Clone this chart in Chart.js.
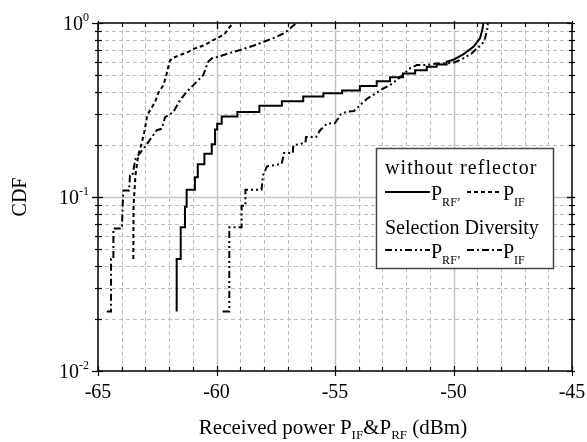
<!DOCTYPE html>
<html>
<head>
<meta charset="utf-8">
<script src="https://cdn.jsdelivr.net/npm/chart.js@4.4.0/dist/chart.umd.min.js"></script>
<style>
  html, body { margin: 0; padding: 0; background: #fff; }
</style>
</head>
<body>
<canvas id="grafico" width="587" height="442"></canvas>
<script>
// values (received power in dBm, CDF)
const rfSinX = [-61.68, -61.68, -61.51, -61.51, -61.33, -61.33, -61.26, -61.26, -60.91, -60.91,
  -60.79, -60.79, -60.51, -60.51, -60.20, -60.20, -60.06, -60.06, -59.97, -59.97,
  -59.78, -59.78, -59.12, -59.12, -58.19, -58.19, -57.24, -57.24, -56.34, -56.34,
  -55.49, -55.49, -54.70, -54.70, -53.95, -53.95, -53.24, -53.24, -52.68, -52.68,
  -52.13, -52.13, -51.62, -51.62, -51.13, -51.13, -50.71, -50.71, -50.29, -50.29,
  -50.00, -49.59, -49.16, -48.88, -48.77, -48.74];
const rfSinCdf = [0.022, 0.044, 0.044, 0.067, 0.067, 0.088, 0.088, 0.110, 0.110, 0.130,
  0.130, 0.154, 0.154, 0.177, 0.177, 0.201, 0.201, 0.244, 0.244, 0.264,
  0.264, 0.290, 0.290, 0.308, 0.308, 0.334, 0.334, 0.355, 0.355, 0.378,
  0.378, 0.395, 0.395, 0.410, 0.410, 0.435, 0.435, 0.463, 0.463, 0.487,
  0.487, 0.513, 0.513, 0.536, 0.536, 0.560, 0.560, 0.578, 0.578, 0.599,
  0.615, 0.660, 0.730, 0.816, 0.932, 1.0];

const ifSinX = [-63.51, -63.50, -63.42, -63.30, -63.16, -63.05, -62.92, -62.80, -62.59, -62.45,
  -62.24, -62.12, -61.98, -61.89, -61.54, -61.19, -60.91, -60.49, -60.14, -59.85,
  -59.64, -59.43, -59.29];
const ifSinCdf = [0.044, 0.089, 0.133, 0.174, 0.203, 0.235, 0.295, 0.315, 0.352, 0.398,
  0.439, 0.500, 0.600, 0.626, 0.654, 0.683, 0.715, 0.747, 0.798, 0.834,
  0.872, 0.952, 1.0];

const rfSdX = [-59.74, -59.46, -59.46, -58.94, -58.94, -58.78, -58.78, -58.10, -58.04, -57.87,
  -57.25, -57.15, -56.78, -56.76, -56.25, -56.22, -55.80, -55.63, -55.34, -55.00,
  -54.75, -54.49, -54.20, -53.82, -53.61, -53.40, -52.97, -52.68, -52.40, -52.12,
  -51.84, -51.55, -51.13, -50.71, -50.29, -49.94, -49.59, -49.23, -49.02, -48.81,
  -48.67, -48.60, -48.57, -48.55];
const rfSdCdf = [0.022, 0.022, 0.067, 0.067, 0.089, 0.089, 0.110, 0.110, 0.133, 0.150,
  0.155, 0.179, 0.179, 0.198, 0.205, 0.221, 0.221, 0.242, 0.264, 0.266,
  0.299, 0.310, 0.312, 0.350, 0.370, 0.385, 0.420, 0.439, 0.469, 0.506,
  0.548, 0.573, 0.573, 0.586, 0.585, 0.595, 0.626, 0.669, 0.715, 0.747,
  0.816, 0.891, 0.932, 1.0];

const ifSdX = [-64.63, -64.45, -64.45, -64.35, -64.35, -63.99, -63.96, -63.93, -63.69, -63.65,
  -63.55, -63.42, -63.30, -63.02, -62.73, -62.52, -62.31, -62.17, -62.03, -61.82,
  -61.54, -61.26, -60.84, -60.56, -60.35, -60.20, -59.92, -59.50, -59.01, -58.45,
  -58.00, -57.49, -57.11, -56.90, -56.69, -56.60];
const ifSdCdf = [0.022, 0.022, 0.044, 0.044, 0.066, 0.066, 0.089, 0.109, 0.109, 0.133,
  0.133, 0.165, 0.174, 0.194, 0.221, 0.242, 0.247, 0.288, 0.295, 0.308,
  0.360, 0.402, 0.459, 0.501, 0.599, 0.626, 0.640, 0.669, 0.699, 0.740,
  0.780, 0.830, 0.880, 0.930, 0.983, 1.0];

const xTicks = [-65, -60, -55, -50, -45];
const yTicks = [1, 0.1, 0.01];
const yTickExp = ["0", "-1", "-2"];

const SERIF = '"Liberation Serif", "Times New Roman", serif';

const puntos = (xs, ys) => xs.map((v, i) => ({ x: v, y: ys[i] }));

const estilo = {
  rfSin: [],
  ifSin: [4, 3],
  rfSd: [7, 3, 2, 3, 2, 3],
  ifSd: [7, 3, 2, 3]
};

// draw text made of several pieces (normal text, sub/superscripts)
function textoPartes(ctx, partes, x, y, align) {
  let ancho = 0;
  partes.forEach(p => {
    ctx.font = p[1] + "px " + SERIF;
    ancho += ctx.measureText(p[0]).width;
  });
  let cx = x;
  if (align === "center") cx = x - ancho / 2;
  if (align === "right") cx = x - ancho;
  ctx.textAlign = "left";
  ctx.textBaseline = "alphabetic";
  partes.forEach(p => {
    ctx.font = p[1] + "px " + SERIF;
    ctx.fillText(p[0], cx, y + p[2]);
    cx += ctx.measureText(p[0]).width;
  });
}

function linea(ctx, x1, y1, x2, y2) {
  ctx.beginPath();
  ctx.moveTo(x1, y1);
  ctx.lineTo(x2, y2);
  ctx.stroke();
}

const marcoPlugin = {
  id: "marco",
  beforeDatasetsDraw(chart) {
    const { ctx, chartArea: a, scales: { x, y } } = chart;
    ctx.save();
    ctx.lineWidth = 1;
    // vertical grid
    for (let v = -64; v <= -46; v++) {
      const px = Math.round(x.getPixelForValue(v)) + 0.5;
      const mayor = v % 5 === 0;
      ctx.strokeStyle = mayor ? "#c4c4c4" : "#bdbdbd";
      ctx.lineWidth = mayor ? 1.5 : 1;
      ctx.setLineDash(mayor ? [] : [4, 3]);
      linea(ctx, px, a.top, px, a.bottom);
    }
    // horizontal grid
    [0.01, 0.1].forEach(d => {
      for (let m = 1; m <= 9; m++) {
        const val = d * m;
        if (val === 0.01) continue;
        const py = Math.round(y.getPixelForValue(val)) + 0.5;
        const mayor = m === 1;
        ctx.strokeStyle = mayor ? "#c4c4c4" : "#bdbdbd";
        ctx.lineWidth = mayor ? 1.5 : 1;
        ctx.setLineDash(mayor ? [] : [4, 3]);
        linea(ctx, a.left, py, a.right, py);
      }
    });
    ctx.restore();
  },
  afterDatasetsDraw(chart) {
    const { ctx, chartArea: a, scales: { x, y } } = chart;
    ctx.save();
    ctx.strokeStyle = "#000";
    ctx.fillStyle = "#000";
    ctx.setLineDash([]);
    ctx.lineWidth = 1.5;
    ctx.strokeRect(a.left, a.top, a.right - a.left, a.bottom - a.top);

    // tick marks on the four sides
    ctx.lineWidth = 1.2;
    for (let v = -65; v <= -45; v++) {
      const px = Math.round(x.getPixelForValue(v)) + 0.5;
      const mayor = v % 5 === 0;
      if (mayor) {
        linea(ctx, px, a.bottom - 5, px, a.bottom + 5);
        linea(ctx, px, a.top - 2, px, a.top + 6);
      } else {
        linea(ctx, px, a.bottom - 4, px, a.bottom);
        linea(ctx, px, a.top, px, a.top + 4);
      }
    }
    [0.01, 0.1].forEach(d => {
      for (let m = 1; m <= 10; m++) {
        const val = d * m;
        const py = Math.round(y.getPixelForValue(val)) + 0.5;
        const mayor = m === 1 || m === 10;
        if (mayor) {
          linea(ctx, a.left - 6, py, a.left + 5, py);
          linea(ctx, a.right - 5, py, a.right + 3, py);
        } else {
          linea(ctx, a.left - 3, py, a.left + 4, py);
          linea(ctx, a.right - 3, py, a.right + 3, py);
        }
      }
    });

    // tick labels
    xTicks.forEach(v => {
      textoPartes(ctx, [[String(v), 20, 0]], x.getPixelForValue(v), 398, "center");
    });
    yTicks.forEach((v, i) => {
      const py = y.getPixelForValue(v);
      textoPartes(ctx, [["10", 20, 0], [yTickExp[i], 12, -9]], a.left - 9, py + 7, "right");
    });

    // axis titles
    textoPartes(ctx, [["Received power P", 21, 0], ["IF", 13, 5], ["&P", 21, 0], ["RF", 13, 5], [" (dBm)", 21, 0]],
      333, 434, "center");
    ctx.save();
    ctx.translate(26, (a.top + a.bottom) / 2);
    ctx.rotate(-Math.PI / 2);
    textoPartes(ctx, [["CDF", 20, 0]], 0, 0, "center");
    ctx.restore();

    // legend box
    ctx.fillStyle = "#fff";
    ctx.fillRect(376, 148, 177, 120);
    ctx.strokeStyle = "#444";
    ctx.lineWidth = 1.5;
    ctx.strokeRect(376.5, 148.5, 177, 120);
    ctx.fillStyle = "#000";
    ctx.strokeStyle = "#000";
    ctx.letterSpacing = "1.1px";
    textoPartes(ctx, [["without reflector", 20, 0]], 385, 174, "left");
    ctx.letterSpacing = "0px";
    textoPartes(ctx, [["Selection Diversity", 20, 0]], 385, 234, "left");
    const filas = [
      { yl: 192, yb: 200, a: estilo.rfSin, b: estilo.ifSin },
      { yl: 250, yb: 258, a: estilo.rfSd, b: estilo.ifSd }
    ];
    ctx.lineWidth = 2;
    filas.forEach(f => {
      ctx.setLineDash(f.a);
      linea(ctx, 385, f.yl, 430, f.yl);
      ctx.setLineDash(f.b);
      linea(ctx, 467, f.yl, 502, f.yl);
      ctx.setLineDash([]);
      textoPartes(ctx, [["P", 20, 0], ["RF\u2019", 12, 6]], 431, f.yb, "left");
      textoPartes(ctx, [["P", 20, 0], ["IF", 12, 6]], 503, f.yb, "left");
    });
    ctx.restore();
  }
};

const serie = (xs, ys, dash) => ({
  data: puntos(xs, ys),
  borderColor: "#000",
  borderWidth: 2,
  borderDash: dash,
  pointRadius: 0,
  fill: false,
  tension: 0
});

new Chart(document.getElementById("grafico"), {
  type: "line",
  data: {
    datasets: [
      serie(rfSinX, rfSinCdf, estilo.rfSin),
      serie(ifSinX, ifSinCdf, estilo.ifSin),
      serie(rfSdX, rfSdCdf, estilo.rfSd),
      serie(ifSdX, ifSdCdf, estilo.ifSd)
    ]
  },
  options: {
    responsive: false,
    animation: false,
    layout: { padding: { left: 98, right: 15, top: 23, bottom: 71 } },
    plugins: { legend: { display: false }, tooltip: { enabled: false } },
    scales: {
      x: { type: "linear", min: -65, max: -45, display: false },
      y: { type: "logarithmic", min: 0.01, max: 1, display: false }
    }
  },
  plugins: [marcoPlugin]
});
</script>
</body>
</html>
